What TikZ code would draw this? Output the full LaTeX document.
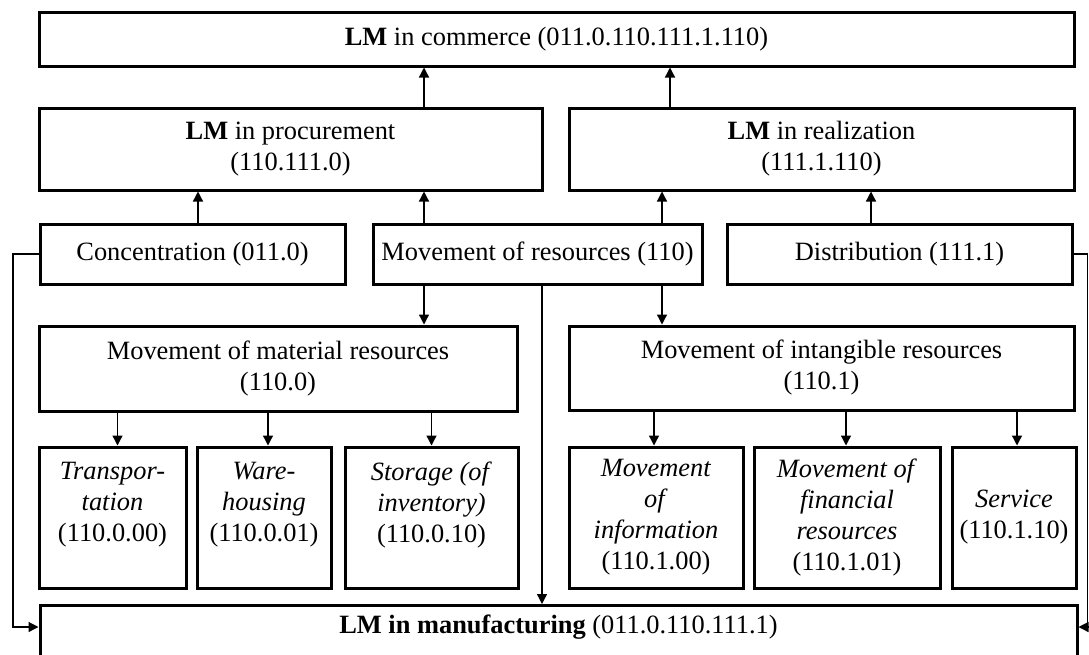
\documentclass[tikz,border=0pt]{standalone}
\usepackage{fontspec}
\setmainfont{Liberation Serif}
\usetikzlibrary{arrows.meta}
\begin{document}
\begin{tikzpicture}[x=1pt,y=-1pt,
  box/.style={draw, line width=3pt, inner sep=0pt, align=center,
    font=\fontsize{26.4}{31}\selectfont},
  arr/.style={line width=1.3pt, -{Triangle[length=10pt,width=10pt]}},
  ln/.style={line width=1.3pt},
  txt/.style={inner sep=0pt, align=center, font=\fontsize{26.4}{31}\selectfont}]
\useasboundingbox (0,0) rectangle (1089,654);

% column positions of the vertical connectors
\coordinate (xa) at (198,0);
\coordinate (xb) at (424,0);
\coordinate (xc) at (662,0);
\coordinate (xr) at (670,0);
\coordinate (xd) at (871,0);
\coordinate (xe) at (542,0);
\coordinate (xl) at (13,0);
\coordinate (xg) at (1087.5,0);
\coordinate (ym) at (0,627);

% top level
\node[box, minimum width=1035, minimum height=54] (com) at (556.5,39)
  {\textbf{LM} in commerce (011.0.110.111.1.110)};

% second level
\node[box, minimum width=503, minimum height=82] (proc) at (290.5,149)
  {\textbf{LM} in procurement\\(110.111.0)};
\node[box, minimum width=505, minimum height=82] (real) at (821.5,149)
  {\textbf{LM} in realization\\(111.1.110)};

% functions
\node[box, minimum width=305, minimum height=60] (conc) at (192.5,254)
  {Concentration (011.0)};
\node[box, minimum width=329, minimum height=60] (res) at (537.5,254)
  {Movement of resources (110)};
\node[box, minimum width=345, minimum height=60] (dist) at (899.5,254)
  {Distribution (111.1)};

% kinds of resources
\node[box, minimum width=478, minimum height=85] (mat) at (278,368.5)
  {Movement of material resources\\(110.0)};
\node[box, minimum width=505, minimum height=84] (intg) at (821.5,368)
  {Movement of intangible resources\\(110.1)};

% elementary activities
\node[box, minimum width=147, minimum height=141] (trans) at (112.5,517.5)
  {\textit{Transpor-}\\\textit{tation}\\(110.0.00)\\\mbox{}};
\node[box, minimum width=134, minimum height=141] (ware) at (264,517.5)
  {\textit{Ware-}\\\textit{housing}\\(110.0.01)\\\mbox{}};
\node[box, minimum width=173, minimum height=141] (stor) at (431.5,517.5)
  {\textit{Storage (of}\\\textit{inventory)}\\(110.0.10)\\\mbox{}};
\node[box, minimum width=174, minimum height=141] (info) at (656,517.5)
  {\textit{Movement}\\\textit{of}\\\textit{information}\\(110.1.00)};
\node[box, minimum width=186, minimum height=141] (fin) at (847,517.5)
  {\textit{Movement of}\\\textit{financial}\\\textit{resources}\\(110.1.01)};
\node[box, minimum width=124, minimum height=141] (serv) at (1014,517.5)
  {\textit{Service}\\(110.1.10)};

% manufacturing (runs past the lower edge)
\node[box, anchor=north, minimum width=1037, minimum height=80] (man) at (558.5,604) {};
\node[txt] (mantxt) at (man.north |- ym)
  {\textbf{LM in manufacturing} (011.0.110.111.1)};

% upward links
\draw[arr] (proc.north -| xb) -- (com.south -| xb);
\draw[arr] (real.north -| xr) -- (com.south -| xr);
\draw[arr] (conc.north -| xa) -- (proc.south -| xa);
\draw[arr] (res.north -| xb) -- (proc.south -| xb);
\draw[arr] (res.north -| xc) -- (real.south -| xc);
\draw[arr] (dist.north -| xd) -- (real.south -| xd);

% downward links
\draw[arr] (res.south -| xb) -- (mat.north -| xb);
\draw[arr] (res.south -| xc) -- (intg.north -| xc);
\draw[arr] (res.south -| xe) -- (man.north -| xe);

\draw[arr] (mat.south -| trans.north) ++(5,0) coordinate (t1) -- (trans.north -| t1);
\draw[arr] (mat.south -| ware.north) ++(4,0) coordinate (w1) -- (ware.north -| w1);
\draw[arr] (mat.south -| stor.north) coordinate (s1) -- (stor.north);
\draw[arr] (intg.south -| info.north) ++(-2,0) coordinate (i1) -- (info.north -| i1);
\draw[arr] (intg.south -| fin.north) ++(-1,0) coordinate (f1) -- (fin.north -| f1);
\draw[arr] (intg.south -| serv.north) ++(3,0) coordinate (v1) -- (serv.north -| v1);

% side loops into manufacturing
\draw[arr] (conc.west) -- (conc.west -| xl) -- (xl |- ym) -- (man.west |- ym);
\draw[arr] (dist.east) -- (dist.east -| xg) -- (xg |- ym) -- (man.east |- ym);
\end{tikzpicture}
\end{document}
